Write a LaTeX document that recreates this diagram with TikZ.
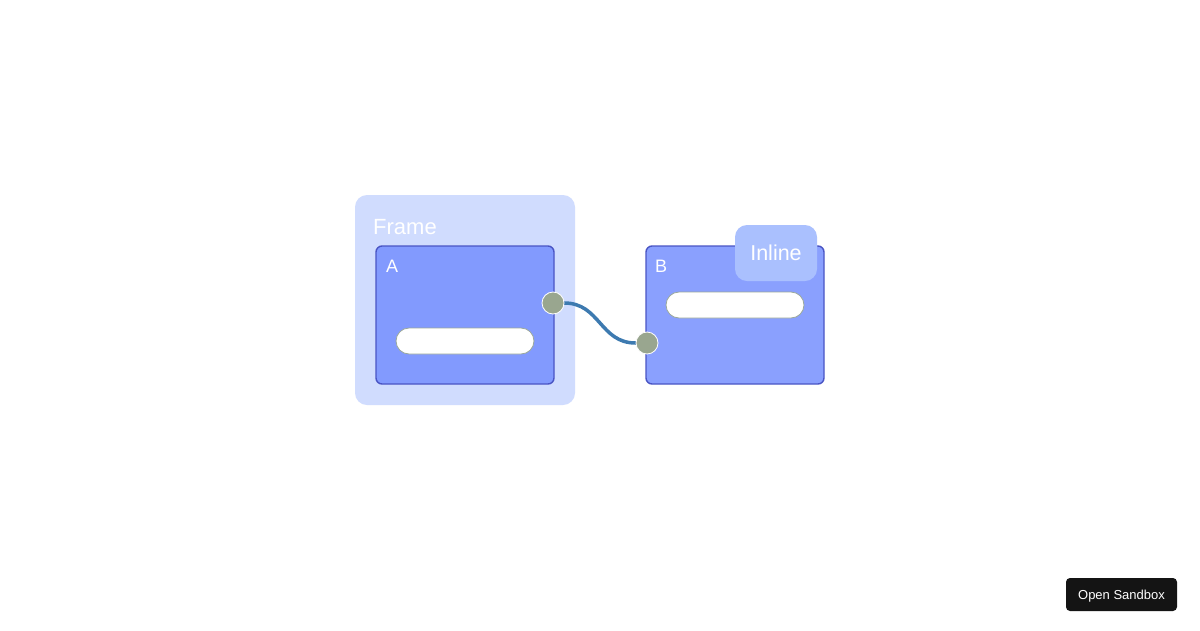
\documentclass[tikz,border=0pt]{standalone}
\usepackage{fontspec}
\setmainfont{Liberation Sans}
\definecolor{framefill}{HTML}{D0DCFE}
\definecolor{nodefillA}{HTML}{829AFE}
\definecolor{nodefillB}{HTML}{8AA0FE}
\definecolor{nodeedge}{HTML}{4A55C4}
\definecolor{inlinefill}{HTML}{AAC0FE}
\definecolor{portfill}{HTML}{99A68F}
\definecolor{wire}{HTML}{3D7AB0}
\definecolor{barline}{HTML}{9AA89A}
\definecolor{btnfill}{HTML}{141414}
\pgfdeclarelayer{front}
\pgfsetlayers{main,front}
\begin{document}
\begin{tikzpicture}[x=1pt, y=-1pt, line cap=round, line join=round]
			\tikzset{flownode/.style={draw=nodeedge, line width=1.4pt, rounded corners=6pt},
				inputbar/.style={fill=white, draw=barline, line width=0.8pt, rounded corners=13pt},
				port/.style={circle, fill=portfill, draw=white, line width=0.8pt, minimum size=22pt, inner sep=0pt},
				caption/.style={text=white, inner sep=0pt, anchor=base west}}
			\useasboundingbox[fill=white] (0,0) rectangle (1200,630);
			% frame and node A
			\fill[framefill, rounded corners=12pt] (355,195) rectangle (575,405);
			\node[caption, font=\fontsize{22}{22}\selectfont] (frametitle) at (373,234) {Frame};
			\draw[flownode, fill=nodefillA] (376,246) rectangle (554,384);
			\node[caption, font=\fontsize{18}{18}\selectfont] (labelA) at (386,272) {A};
			\draw[inputbar] (396,328) rectangle (534,354);
			% node B with inline badge
			\draw[flownode, fill=nodefillB] (646,246) rectangle (824,384);
			\node[caption, font=\fontsize{18}{18}\selectfont] (labelB) at (655,272) {B};
			\draw[inputbar] (666,292) rectangle (804,318);
			\node[fill=inlinefill, rounded corners=12pt, minimum width=82pt, minimum height=56pt, inner sep=0pt,
				text=white, font=\fontsize{21.5}{21.5}\selectfont] (inline) at (776,253) {Inline};
			% ports on top, wire between them
			\begin{pgfonlayer}{front}
				\node[port] (outA) at (553,303) {};
				\node[port] (inB) at (647,343) {};
			\end{pgfonlayer}
			\draw[wire, line width=3.5pt] (outA.east) .. controls (600,303) and (600,343) .. (inB.west);
			% sandbox button
			\node[fill=btnfill, rounded corners=4pt, minimum width=111pt, minimum height=33pt, inner sep=0pt,
				text height=10pt, text depth=0pt, text=white, font=\fontsize{13}{13}\selectfont] (sandbox) at (1121.5,594.5) {Open Sandbox};
		\end{tikzpicture}
\end{document}
